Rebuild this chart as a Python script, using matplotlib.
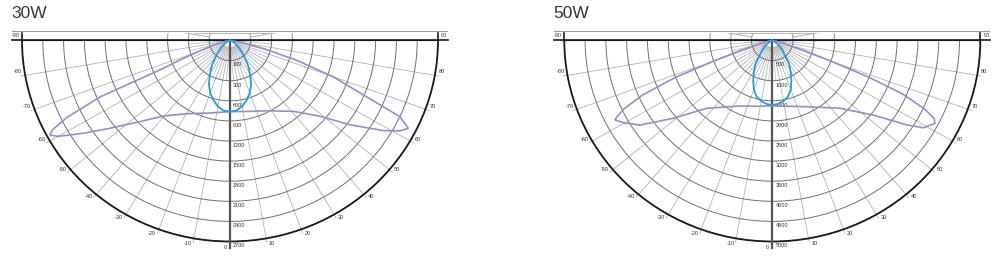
import numpy as np
import matplotlib
matplotlib.use("Agg")
import matplotlib.pyplot as plt
from matplotlib.lines import Line2D
from matplotlib.patches import Rectangle

plt.rcParams['font.family'] = ['Liberation Sans', 'DejaVu Sans']

# ==============================
# DATA (cd)
# ==============================
titles = ["30W", "50W"]
r_max = [2700, 5000]
ring_labels_30 = ["100", "300", "600", "900", "1200", "1500", "1800", "2100", "2400", "2700"]
ring_labels_50 = ["500", "1000", "1500", "2000", "2500", "3000", "3500", "4000", "4500", "5000"]
angle_ticks = list(range(-90, 91, 10))

# 30W, C90 plane (blue)
blue30_ang = [-90, -80, -70, -60, -50, -45, -40, -35, -30, -25, -20, -15, -10, -5, 0,
              5, 10, 15, 20, 25, 30, 35, 40, 45, 50, 60, 70, 80, 90]
blue30_val = [0, 10, 30, 75, 150, 210, 300, 410, 520, 650, 750, 830, 900, 945, 957,
              945, 900, 830, 750, 650, 520, 410, 300, 210, 150, 75, 30, 10, 0]

# 30W, C0 plane (purple)
purple30_ang = [-90, -80, -75, -70, -68, -66.5, -65.8, -64, -62.5, -61.5, -60, -56.8, -52.9,
                -47, -40.5, -30, -16, 0, 15, 27, 41, 49, 54, 58.7, 61.2, 63, 65.1, 66.9,
                70, 73, 76, 80, 90]
purple30_val = [0, 50, 200, 450, 700, 1000, 1850, 2350, 2600, 2660, 2576, 2276, 1954,
                1598, 1334, 1136, 1014, 956, 986, 1060, 1261, 1553, 1927, 2330, 2519, 2598, 2432, 1928,
                1426, 900, 450, 150, 0]

# 50W, C90 plane (blue)
blue50_ang = [-90, -80, -70, -60, -55, -50, -45, -40, -35, -30, -25, -20, -15, -10, -5, 0,
              5, 10, 15, 20, 25, 30, 35, 40, 45, 50, 55, 60, 70, 80, 90]
blue50_val = [0, 10, 40, 100, 160, 240, 340, 460, 700, 880, 1085, 1300, 1450, 1530, 1585, 1604,
              1585, 1530, 1450, 1300, 1085, 880, 700, 460, 340, 240, 160, 100, 40, 10, 0]

# 50W, C0 plane (purple)
purple50_ang = [-90, -80, -75, -72, -70, -68.5, -66.5, -64.5, -63, -62.4, -60, -56.5, -50.9,
                -43.1, -25.5, -12, 0, 12, 26.7, 44, 52.6, 57, 59.1, 62.2, 63.5, 65, 67,
                68.5, 70, 72, 75, 80, 90]
purple50_val = [0, 80, 300, 800, 1500, 2500, 3400, 3950, 4200, 4267, 4100, 3812, 3067,
                2309, 1805, 1672, 1625, 1672, 1843, 2344, 3054, 3854, 4229, 4420, 4350, 4050, 3400,
                2500, 1500, 800, 300, 80, 0]

BLUE = "#1f9de0"
PURPLE = "#a088cf"

W, H = 1000, 265
RX, RY = 208, 201      # half-disc size in px
CY = 40.5              # centre line, px from top

fig = plt.figure(figsize=(W / 100, H / 100), dpi=100)


def fx(x):
    return x / W


def fy(y):
    return 1 - y / H


def panel(cx, title, rmax, ring_labels, b_ang, b_val, p_ang, p_val):
    # polar wedge bbox is padded to a square, so the half-disc fills the middle of the axes
    rect = [fx(cx - RX), (H - CY - 0.75 * 2 * RY) / H, 2 * RX / W, 2 * RY / H]
    ax = fig.add_axes(rect, projection="polar")
    ax.set_theta_zero_location("S")
    ax.set_thetamin(-90)
    ax.set_thetamax(90)
    ax.set_rlim(0, rmax)
    ax.set_aspect("auto")
    step = rmax / 10

    ax.set_xticks([])
    ax.set_yticks(np.arange(1, 11) * step)
    ax.set_yticklabels([])
    ax.tick_params(length=0)
    ax.yaxis.grid(True, color="#707070", lw=0.7)
    ax.xaxis.grid(False)
    ax.spines["polar"].set(color="#1a1a1a", lw=1.3)
    for s in ("start", "end", "inner"):
        ax.spines[s].set_visible(False)

    # rays
    for a in range(-85, 90, 5):
        if a == 0:
            continue
        t = np.deg2rad(a)
        if a % 10 == 0:
            ax.plot([t, t], [0.35 * step, rmax * 1.02], color="#ababab", lw=0.55, clip_on=False, zorder=1)
        else:
            ax.plot([t, t], [0.35 * step, 2 * step], color="#b5b5b5", lw=0.5, zorder=1)

    # vertical axis and diameter
    ax.plot([0, 0], [0, rmax * 1.03], color="#555555", lw=1.6, clip_on=False, zorder=3)
    for t in (-np.pi / 2, np.pi / 2):
        ax.plot([t, t], [0, rmax * 1.048], color="#1a1a1a", lw=1.2, clip_on=False, zorder=3)

    # little piece of the upper half near the centre, clipped to a thin band
    band = Rectangle((fx(cx - 66), fy(CY)), 132 / W, 8 / H, transform=fig.transFigure)
    th = np.deg2rad(np.linspace(90, 150, 40))
    for k in (1, 2, 3):
        for sgn in (1, -1):
            ln, = ax.plot(sgn * th, np.full(th.size, k * step), color="#8a8a8a", lw=0.6)
            ln.set_clip_path(band)
    for a in (100, 110, 120):
        for sgn in (1, -1):
            t = sgn * np.deg2rad(a)
            ln, = ax.plot([t, t], [step, 3 * step], color="#a5a5a5", lw=0.6)
            ln.set_clip_path(band)

    # curves
    ax.plot(np.deg2rad(p_ang), p_val, color=PURPLE, lw=1.2, zorder=5, clip_on=False)
    ax.plot(np.deg2rad(b_ang), b_val, color=BLUE, lw=1.3, zorder=6, clip_on=False)

    # angle labels
    for a in angle_ticks:
        s = 1 if a > 0 else -1
        ax.text(np.deg2rad(a + s * 1.3), rmax * 1.03, str(a), ha="center", va="center",
                fontsize=4, color="#333333", clip_on=False)

    # ring labels
    for k, lbl in enumerate(ring_labels):
        ax.annotate(lbl, xy=(0, (k + 1) * step), xytext=(2.2, -1.3), textcoords="offset points",
                    ha="left", va="top", fontsize=4, color="#333333")

    # frame lines above the diagram
    fig.add_artist(Line2D([fx(cx - 218), fx(cx + 217)], [fy(31), fy(31)],
                          transform=fig.transFigure, color="#9a9a9a", lw=0.8))
    fig.add_artist(Line2D([fx(cx - 35), fx(cx + 40)], [fy(33), fy(33)],
                          transform=fig.transFigure, color="#b0b0b0", lw=0.6))
    for x in (cx - RX, cx + RX):
        fig.add_artist(Line2D([fx(x), fx(x)], [fy(33), fy(CY)],
                              transform=fig.transFigure, color="#1a1a1a", lw=1.2))

    fig.text(fx(cx - 219), fy(18.3), title, fontsize=12.5, color="#333333",
             ha="left", va="baseline")
    return ax


panel(230, titles[0], r_max[0], ring_labels_30, blue30_ang, blue30_val, purple30_ang, purple30_val)
panel(772.3, titles[1], r_max[1], ring_labels_50, blue50_ang, blue50_val, purple50_ang, purple50_val)

fig.savefig("out.png", dpi=100)
